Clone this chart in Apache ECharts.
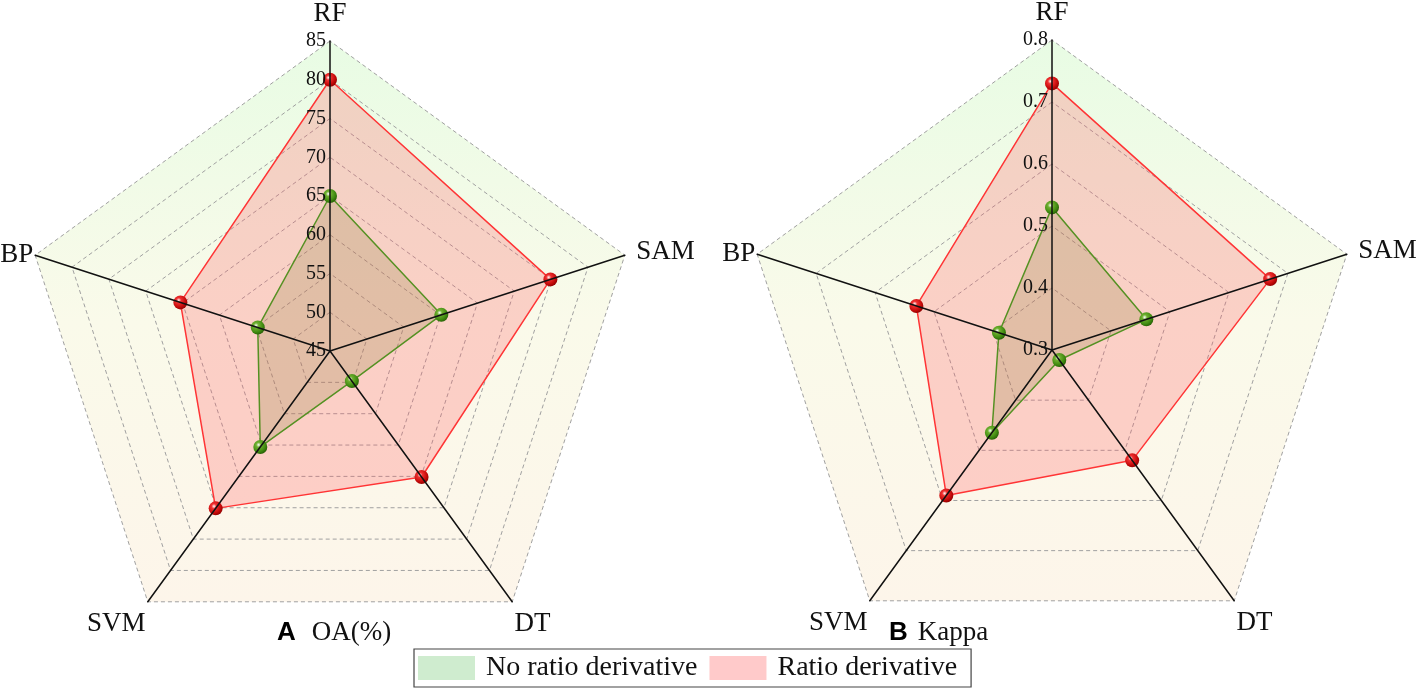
<!DOCTYPE html>
<html><head><meta charset="utf-8">
<script src="https://cdn.jsdelivr.net/npm/echarts@6/dist/echarts.min.js"></script>
<style>html,body{margin:0;padding:0;background:#fff}#c{width:1418px;height:696px}</style>
</head><body><div id="c"></div>
<script>
// categories in drawing order (counter-clockwise from top)
const categories = ['RF', 'BP', 'SVM', 'DT', 'SAM'];
const seriesNames = ['No ratio derivative', 'Ratio derivative'];
// OA (%)
const oaNoRatio = [65, 54.8, 60.3, 49.8, 60.1];
const oaRatio   = [80, 65.3, 70.1, 65.1, 74.9];
const oaMin = 45, oaMax = 85, oaSplits = 8;
// Kappa
const kappaNoRatio = [0.53, 0.39, 0.465, 0.32, 0.46];
const kappaRatio   = [0.73, 0.53, 0.59, 0.52, 0.67];
const kMin = 0.3, kMax = 0.8, kSplits = 5;

const serif = '"Liberation Serif", "DejaVu Serif", serif';
const sans = '"Liberation Sans", Arial, sans-serif';
const nameGaps = {RF: 14, BP: 2, SVM: 4, DT: 4, SAM: 12};

function bgGrad(y1, y2) {
  return {type: 'linear', x: 0, y: y1, x2: 0, y2: y2, global: true,
    colorStops: [{offset: 0, color: '#e8fce4'}, {offset: 0.5, color: '#fafaea'}, {offset: 1, color: '#fdf5ea'}]};
}
function ball(c1, c2, c3) {
  return {type: 'radial', x: 0.38, y: 0.35, r: 0.7,
    colorStops: [{offset: 0, color: '#ffffff'}, {offset: 0.25, color: c1}, {offset: 0.7, color: c2}, {offset: 1, color: c3}]};
}
// background radar: split areas + dashed rings
function bgRadar(center, min, max, splits) {
  return {
    z: 0, center: center, radius: 310, startAngle: 90, splitNumber: splits, shape: 'polygon',
    indicator: categories.map(n => ({name: n, min: min, max: max})),
    axisName: {show: false},
    axisLine: {show: false}, axisTick: {show: false}, axisLabel: {show: false},
    splitLine: {lineStyle: {color: '#a0a0a0', type: [4, 3], width: 1}},
    splitArea: {show: true, areaStyle: {color: [bgGrad(40, 603)]}}
  };
}
// overlay radar: axes, names and tick labels drawn above the series
function fgRadar(center, min, max, splits) {
  return {
    z: 5, center: center, radius: 310, startAngle: 90, splitNumber: splits, shape: 'polygon',
    indicator: categories.map((n, i) => i === 0
      ? {name: n, min: min, max: max, axisLabel: {show: true}, nameGap: nameGaps[n]}
      : {name: n, min: min, max: max, nameGap: nameGaps[n]}),
    axisName: {
      color: '#111', fontFamily: serif, fontSize: 27,
      formatter: (name) => '{' + name + '|' + name + '}',
      rich: {
        RF: {fontFamily: serif, fontSize: 27, color: '#111'},
        BP: {fontFamily: serif, fontSize: 27, color: '#111'},
        SAM: {fontFamily: serif, fontSize: 27, color: '#111'},
        SVM: {fontFamily: serif, fontSize: 27, color: '#111', padding: [38, 0, 0, 0]},
        DT: {fontFamily: serif, fontSize: 27, color: '#111', padding: [38, 0, 0, 0]}
      }
    },
    nameGap: 10,
    axisLine: {lineStyle: {color: '#111', width: 1.5}},
    axisTick: {show: false},
    axisLabel: {show: false, color: '#111', fontFamily: serif, fontSize: 20, margin: 4},
    splitLine: {show: false},
    splitArea: {show: false}
  };
}
function makeSeries(radarIndex, a, b) {
  return {
    type: 'radar', radarIndex: radarIndex, symbol: 'circle', symbolSize: 14, z: 2,
    data: [
      {name: seriesNames[1], value: b,
        lineStyle: {color: '#ff3030', width: 1.5},
        areaStyle: {color: 'rgba(255,90,95,0.37)'},
        itemStyle: {color: ball('#f03030', '#c40a0a', '#8a0000')}},
      {name: seriesNames[0], value: a,
        lineStyle: {color: '#4f9320', width: 1.5},
        areaStyle: {color: 'rgba(140,130,60,0.32)'},
        itemStyle: {color: ball('#6fb030', '#3f8a10', '#245a05')}}
    ]
  };
}
const chart = echarts.init(document.getElementById('c'), null, {renderer: 'canvas'});
function tStyle(gap) {
  return {rich: {a: {fontFamily: sans, fontWeight: 'bold', fontSize: 26, color: '#000'},
                 b: {fontFamily: serif, fontWeight: 'normal', fontSize: 27, color: '#111', padding: [0, 0, 0, gap]}}};
}
chart.setOption({
  animation: false,
  backgroundColor: '#fff',
  radar: [
    bgRadar([330, 351], oaMin, oaMax, oaSplits), bgRadar([1052, 350], kMin, kMax, kSplits),
    fgRadar([330, 351], oaMin, oaMax, oaSplits), fgRadar([1052, 350], kMin, kMax, kSplits)
  ],
  series: [makeSeries(0, oaNoRatio, oaRatio), makeSeries(1, kappaNoRatio, kappaRatio)],
  title: [
    {text: '{a|A}{b|OA(%)}', left: 272, top: 614, textStyle: tStyle(16)},
    {text: '{a|B}{b|Kappa}', left: 884, top: 614, textStyle: tStyle(10)}
  ],
  legend: {
    left: 414, top: 649, orient: 'horizontal',
    borderColor: '#444', borderWidth: 1.2, backgroundColor: '#fff',
    padding: [5, 14, 5, 4], itemGap: 12, itemWidth: 57, itemHeight: 24,
    icon: 'rect',
    textStyle: {fontFamily: serif, fontSize: 28, color: '#111', padding: [0, 0, 0, 6]},
    data: [
      {name: seriesNames[0], itemStyle: {color: '#cfeccf', borderWidth: 0}},
      {name: seriesNames[1], itemStyle: {color: '#ffcaca', borderWidth: 0}}
    ]
  }
});
</script></body></html>
